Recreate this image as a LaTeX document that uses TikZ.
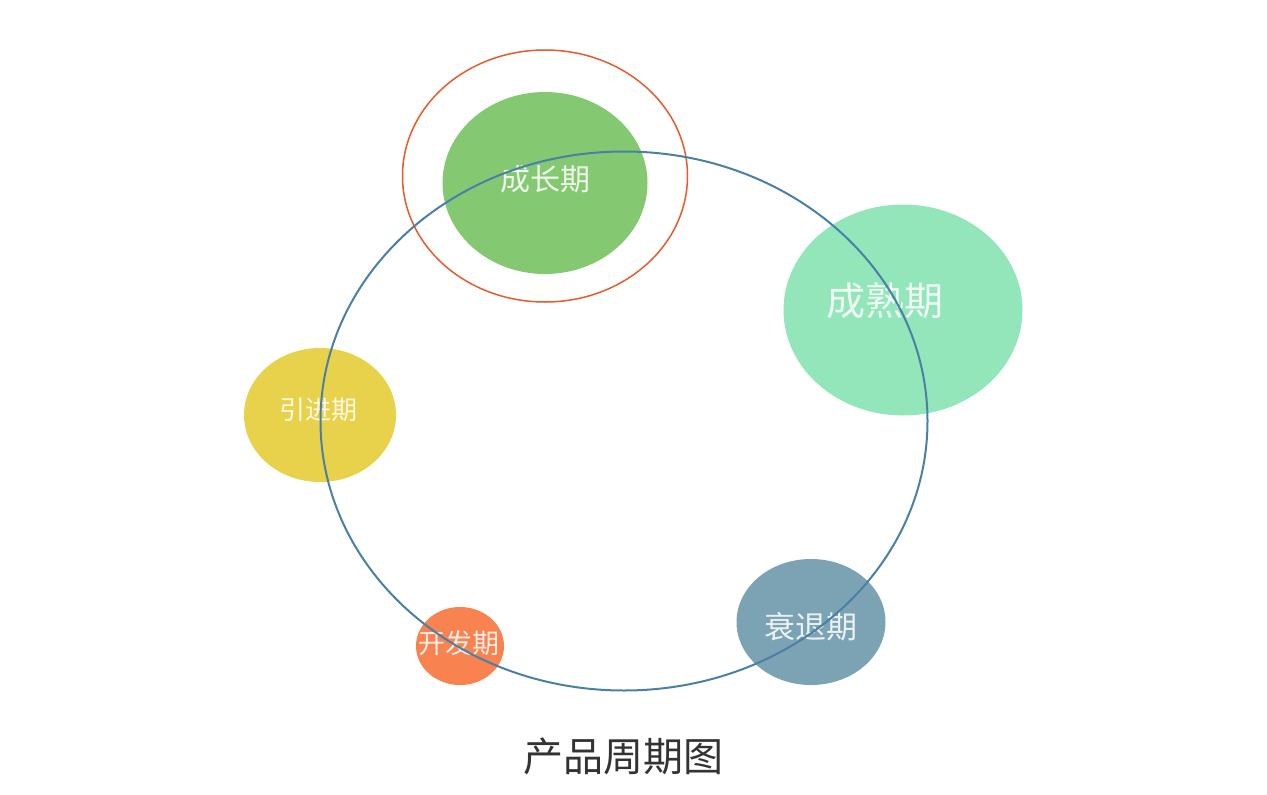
\documentclass[tikz,border=0pt]{standalone}
\usepackage{fontspec}
\usepackage{xcolor}
\usetikzlibrary{shapes.geometric}
\newfontfamily\cjk{Noto Sans CJK SC}
\definecolor{growgreen}{HTML}{84C972}
\definecolor{maturemint}{HTML}{93E5BA}
\definecolor{introyellow}{HTML}{E8D24C}
\definecolor{devorange}{HTML}{F88250}
\definecolor{declinesteel}{HTML}{7CA3B4}
\definecolor{cycleblue}{HTML}{4A80A8}
\definecolor{ringorange}{HTML}{E8592B}

\begin{document}
\begin{tikzpicture}[
  x=1pt, y=-1pt,
  phase/.style={ellipse, inner sep=0pt, draw=none},
  phasetext/.style={inner sep=0pt, text=white, text opacity=0.85, font=\cjk\fontsize{#1}{#1}\selectfont},
  cycle/.style={ellipse, inner sep=0pt, draw=cycleblue, line width=2pt},
  ring/.style={ellipse, inner sep=0pt, draw=ringorange, line width=1.5pt}
]
\useasboundingbox (0,0) rectangle (1267,795);
\node[phase, fill=growgreen, minimum width=205pt, minimum height=182pt,
  label={[phasetext=30, yshift=4pt]center:成长期}] (grow) at (545,183) {};
\node[phase, fill=maturemint, minimum width=239pt, minimum height=211pt,
  label={[phasetext=39, xshift=-18pt, yshift=9pt]center:成熟期}] (mature) at (903,310) {};
\node[phase, fill=introyellow, minimum width=152pt, minimum height=134pt,
  label={[phasetext=26, xshift=-2pt, yshift=5pt]center:引进期}] (intro) at (320,415) {};
\node[phase, fill=devorange, minimum width=88pt, minimum height=78pt,
  label={[phasetext=27, xshift=-1pt, yshift=3pt]center:开发期}] (dev) at (460,646) {};
\node[phase, fill=declinesteel, minimum width=149pt, minimum height=126pt,
  label={[phasetext=31, yshift=-5pt]center:衰退期}] (decline) at (811,622) {};
\node[ring, minimum width=285pt, minimum height=252pt] (focus) at (545,176) {};
\node[cycle, minimum width=607pt, minimum height=539pt] (lifecycle) at (624,421) {};
\node[font=\cjk\fontsize{40}{40}\selectfont, text=black!80] (title) at (623,756) {产品周期图};
\end{tikzpicture}
\end{document}
